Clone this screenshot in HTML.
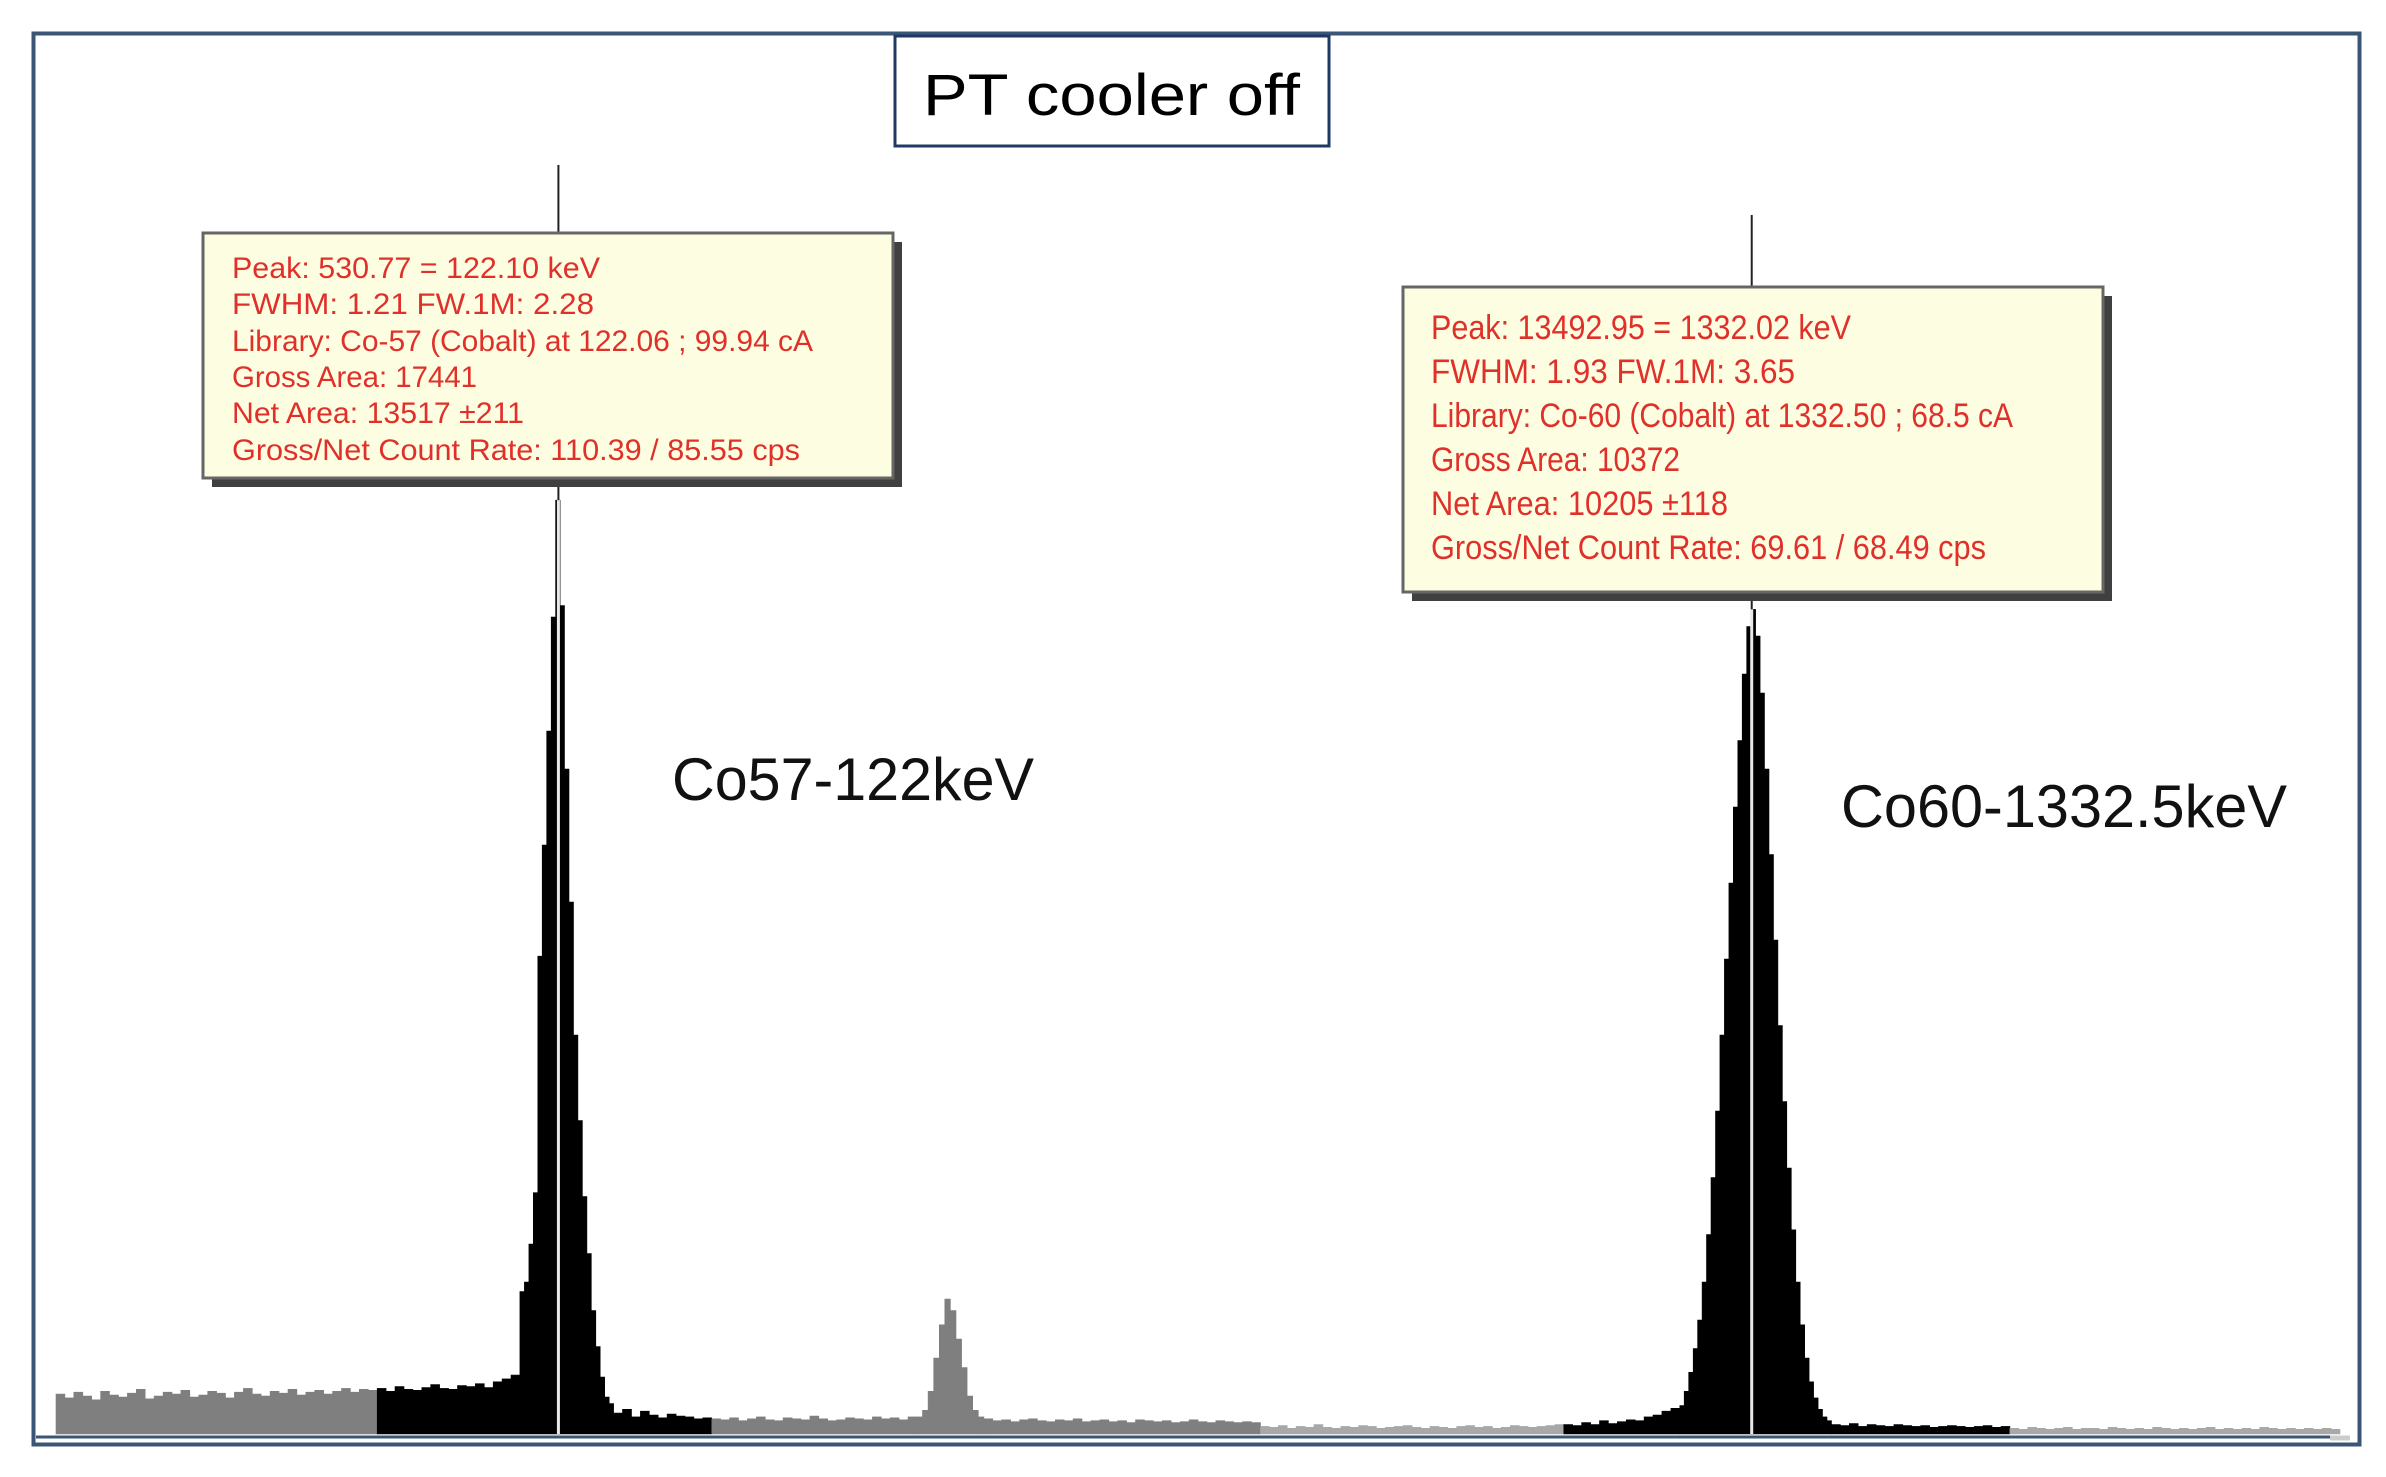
<!DOCTYPE html>
<html><head><meta charset="utf-8"><style>
html,body{margin:0;padding:0;background:#fff;}
svg{display:block;}
</style></head><body>
<svg id="chart" width="2386" height="1477" viewBox="0 0 2386 1477" xmlns="http://www.w3.org/2000/svg">
<rect x="33.5" y="33.5" width="2326" height="1411" fill="#fff" stroke="#3a5575" stroke-width="4"/>
<g id="spectrum"></g>
<line x1="36" y1="1437" x2="2330" y2="1437" stroke="#3a5575" stroke-width="3"/>
<line x1="2330" y1="1438" x2="2350" y2="1438" stroke="#ccc" stroke-width="5"/>
<g id="markers"></g>

<g>
<rect x="895" y="36" width="434" height="110" fill="#fff" stroke="#1f3864" stroke-width="3"/>
<text x="923" y="115" font-family="Liberation Sans, sans-serif" font-size="58" fill="#000" textLength="377" lengthAdjust="spacingAndGlyphs">PT cooler off</text>
</g>

<g font-family="Liberation Sans, sans-serif" font-size="30" fill="#e0302a">
<rect x="212" y="242" width="690" height="245" fill="#404040"/>
<rect x="203" y="233" width="690" height="245" fill="#fdfde2" stroke="#666" stroke-width="3"/>
<text x="232" y="278" textLength="368" lengthAdjust="spacingAndGlyphs">Peak: 530.77 = 122.10 keV</text>
<text x="232" y="314" textLength="362" lengthAdjust="spacingAndGlyphs">FWHM: 1.21  FW.1M: 2.28</text>
<text x="232" y="351" textLength="581" lengthAdjust="spacingAndGlyphs">Library: Co-57 (Cobalt) at 122.06 ;  99.94 cA</text>
<text x="232" y="387" textLength="245" lengthAdjust="spacingAndGlyphs">Gross Area: 17441</text>
<text x="232" y="423" textLength="292" lengthAdjust="spacingAndGlyphs">Net Area: 13517 ±211</text>
<text x="232" y="460" textLength="568" lengthAdjust="spacingAndGlyphs">Gross/Net Count Rate: 110.39 / 85.55 cps</text>
</g>

<g font-family="Liberation Sans, sans-serif" font-size="34" fill="#e0302a">
<rect x="1412" y="296" width="700" height="305" fill="#404040"/>
<rect x="1403" y="287" width="700" height="305" fill="#fdfde2" stroke="#666" stroke-width="3"/>
<text x="1431" y="339" textLength="420" lengthAdjust="spacingAndGlyphs">Peak: 13492.95 = 1332.02 keV</text>
<text x="1431" y="383" textLength="364" lengthAdjust="spacingAndGlyphs">FWHM: 1.93  FW.1M: 3.65</text>
<text x="1431" y="427" textLength="582" lengthAdjust="spacingAndGlyphs">Library: Co-60 (Cobalt) at 1332.50 ;  68.5 cA</text>
<text x="1431" y="471" textLength="249" lengthAdjust="spacingAndGlyphs">Gross Area: 10372</text>
<text x="1431" y="515" textLength="297" lengthAdjust="spacingAndGlyphs">Net Area: 10205 ±118</text>
<text x="1431" y="559" textLength="555" lengthAdjust="spacingAndGlyphs">Gross/Net Count Rate: 69.61 / 68.49 cps</text>
</g>

<text x="672" y="800" font-family="Liberation Sans, sans-serif" font-size="60" fill="#111" textLength="362" lengthAdjust="spacingAndGlyphs">Co57-122keV</text>
<text x="1841" y="827" font-family="Liberation Sans, sans-serif" font-size="60" fill="#111" textLength="446" lengthAdjust="spacingAndGlyphs">Co60-1332.5keV</text>
</svg>
<script>
// Spectrum data: segments of bins (start channel, bin width, region color, counts)
const segStart = [0, 288, 416, 500, 588, 772, 832, 1080, 1352, 1456, 1592, 1752];
const segStep  = [8, 8, 4, 8, 8, 5, 8, 8, 8, 4, 8, 8];
const segRegion = ['gray','roi','roi','roi','gray','gray','gray','light','roi','roi','roi','light'];
const seg0 = [42,38,44,40,36,45,41,39,43,47,37,40,44,42,46,39,41,45,43,38,44,48,42,40,45,43,47,41,44,46,42,45,48,44,47,46];
const seg1 = [48,45,50,47,46,49,52,48,47,51,50,53,49,55,58,62];
const seg2 = [150,160,200,254,503,620,740,860,983,872,700,560,420,330,250,190,130,92,60,39,32];
const seg3 = [22,26,18,24,20,17,21,19,18,16,17];
const seg4 = [16,15,17,14,16,18,15,14,17,16,15,19,16,14,15,17,16,15,18,16,17,15,18];
const seg5 = [18,25,45,80,115,142,130,100,70,40,25,18];
const seg6 = [16,14,15,13,15,16,14,13,15,14,16,13,14,15,13,14,12,15,14,13,14,12,13,15,13,12,14,13,12,13,12];
const seg7 = [8,7,9,6,8,7,10,7,6,8,7,9,8,6,7,8,9,7,6,8,7,6,8,9,7,8,6,7,9,8,7,8,9,10];
const seg8 = [10,9,12,10,14,11,13,15,14,18,20,24,27];
const seg9 = [30,45,65,90,120,160,210,270,340,420,500,580,660,730,800,850,868,840,780,700,610,520,430,350,280,215,160,115,80,55,38,26,18,14];
const seg10 = [10,9,11,8,10,9,8,10,9,8,9,7,8,9,8,7,8,9,7,8];
const seg11 = [6,5,7,6,5,6,7,5,6,6,5,7,6,5,6,5,7,6,5,6,5,6,7,5,6,5,6,5,7,6,5,6,5,6,5,6,5];
const segCounts = [seg0,seg1,seg2,seg3,seg4,seg5,seg6,seg7,seg8,seg9,seg10,seg11];
const markerChannels = [450, 1520];
const markerTops = [165, 215];

const NS = 'http://www.w3.org/2000/svg';
const X0 = 56, X1 = 2340, CH = 2048, BASE = 1434, PXC = 0.95;
function xs(ch){ return X0 + ch * (X1 - X0) / CH; }
function ys(c){ return BASE - c * PXC; }
const regionColor = {gray:'#7f7f7f', roi:'#000', light:'#a8a8a8'};

const spec = document.getElementById('spectrum');
segCounts.forEach((vals, si) => {
  let d = '';
  const st = segStart[si], w = segStep[si];
  d += 'M' + xs(st).toFixed(1) + ',' + BASE;
  vals.forEach((v, i) => {
    const a = xs(st + i*w), b = xs(st + (i+1)*w);
    d += ' L' + a.toFixed(1) + ',' + ys(v).toFixed(1) + ' L' + b.toFixed(1) + ',' + ys(v).toFixed(1);
  });
  d += ' L' + xs(st + vals.length*w).toFixed(1) + ',' + BASE + ' Z';
  const p = document.createElementNS(NS, 'path');
  p.setAttribute('d', d);
  p.setAttribute('fill', regionColor[segRegion[si]]);
  p.setAttribute('stroke', regionColor[segRegion[si]]);
  p.setAttribute('stroke-width', '0.6');
  
  
  spec.appendChild(p);
});

function countAt(ch){
  for (let si = 0; si < segCounts.length; si++) {
    const st = segStart[si], w = segStep[si], n = segCounts[si].length;
    if (ch >= st && ch < st + n*w) return segCounts[si][Math.floor((ch - st)/w)];
  }
  return 0;
}
const mk = document.getElementById('markers');
markerChannels.forEach((ch, i) => {
  const x = xs(ch + 0.5);
  const top = ys(countAt(ch));
  const l1 = document.createElementNS(NS, 'line');
  l1.setAttribute('x1', x); l1.setAttribute('x2', x);
  l1.setAttribute('y1', markerTops[i]); l1.setAttribute('y2', top);
  l1.setAttribute('stroke', '#222'); l1.setAttribute('stroke-width', '2');
  
  
  mk.appendChild(l1);
  const l2 = document.createElementNS(NS, 'line');
  l2.setAttribute('x1', x); l2.setAttribute('x2', x);
  l2.setAttribute('y1', top); l2.setAttribute('y2', BASE);
  l2.setAttribute('stroke', '#e8e8e8'); l2.setAttribute('stroke-width', '3');
  
  
  mk.appendChild(l2);
});
</script>
</body></html>
